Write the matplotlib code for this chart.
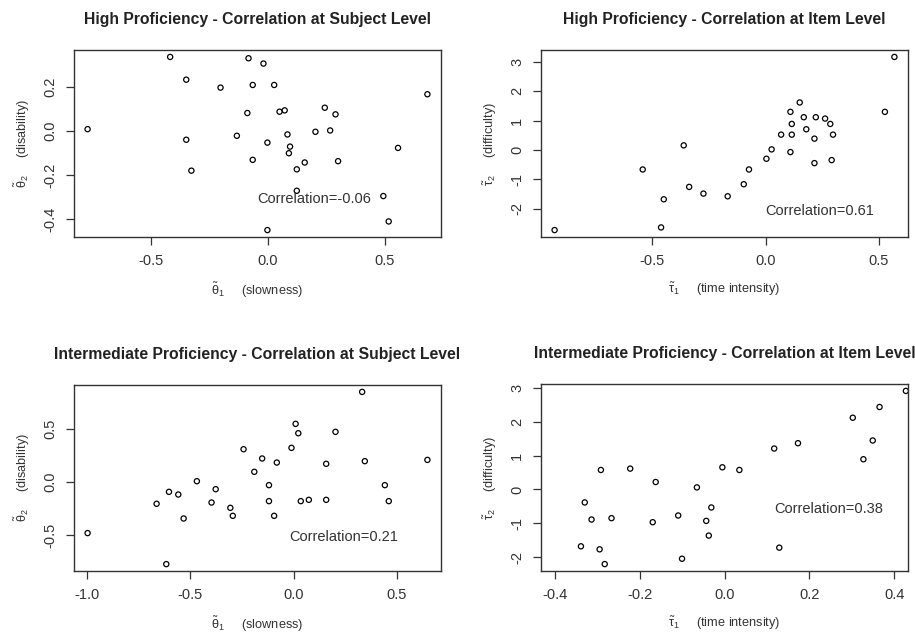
import numpy as np
import matplotlib
matplotlib.use("Agg")
import matplotlib.pyplot as plt

plt.rcParams['font.family'] = ['Liberation Sans', 'DejaVu Sans']
plt.rcParams['axes.unicode_minus'] = False
plt.rcParams['mathtext.fontset'] = 'custom'
plt.rcParams['mathtext.rm'] = 'Liberation Sans'
plt.rcParams['mathtext.it'] = 'Liberation Sans:italic'

# alta competencia - nivel sujeto
hs_x = [-0.774, -0.42, -0.351, -0.351, -0.329, -0.204, -0.134, -0.084, -0.066, -0.089,
        -0.066, -0.02, -0.003, -0.003, 0.026, 0.049, 0.071, 0.083, 0.094, 0.089,
        0.123, 0.123, 0.157, 0.203, 0.243, 0.266, 0.289, 0.3, 0.494, 0.517, 0.557, 0.683]
hs_y = [0.009, 0.336, 0.233, -0.039, -0.179, 0.197, -0.021, 0.33, 0.209, 0.082,
        -0.13, 0.306, -0.052, -0.448, 0.209, 0.088, 0.094, -0.015, -0.07, -0.1,
        -0.173, -0.27, -0.142, -0.003, 0.106, 0.003, 0.076, -0.136, -0.294, -0.409, -0.076, 0.167]

# alta competencia - nivel item
hi_x = [-0.932, -0.543, -0.462, -0.45, -0.362, -0.338, -0.275, -0.168, -0.097, -0.074,
        0.003, 0.026, 0.068, 0.109, 0.109, 0.115, 0.115, 0.15, 0.168, 0.179,
        0.215, 0.215, 0.221, 0.262, 0.285, 0.297, 0.291, 0.526, 0.568]
hi_y = [-2.73, -0.663, -2.64, -1.68, 0.16, -1.257, -1.486, -1.577, -1.166, -0.663,
        -0.297, 0.023, 0.526, 1.303, -0.069, 0.891, 0.526, 1.623, 1.12, 0.709,
        0.389, -0.446, 1.12, 1.074, 0.891, 0.526, -0.343, 1.303, 3.177]

# competencia intermedia - nivel sujeto
ms_x = [-0.997, -0.663, -0.616, -0.603, -0.558, -0.532, -0.468, -0.397, -0.377, -0.306,
        -0.294, -0.242, -0.19, -0.152, -0.119, -0.119, -0.094, -0.081, -0.01, 0.01,
        0.023, 0.035, 0.074, 0.158, 0.158, 0.203, 0.332, 0.345, 0.442, 0.461, 0.648]
ms_y = [-0.478, -0.203, -0.769, -0.091, -0.116, -0.341, 0.009, -0.191, -0.066, -0.241,
        -0.316, 0.309, 0.097, 0.222, -0.028, -0.178, -0.316, 0.184, 0.322, 0.547,
        0.459, -0.178, -0.166, 0.172, -0.166, 0.472, 0.847, 0.197, -0.028, -0.178, 0.209]

# competencia intermedia - nivel item
mi_x = [-0.338, -0.329, -0.313, -0.294, -0.291, -0.282, -0.266, -0.222, -0.169, -0.162,
        -0.109, -0.1, -0.065, -0.043, -0.037, -0.031, -0.005, 0.035, 0.117, 0.129,
        0.173, 0.302, 0.327, 0.349, 0.365, 0.427]
mi_y = [-1.683, -0.386, -0.891, -1.772, 0.574, -2.208, -0.851, 0.614, -0.97, 0.218,
        -0.772, -2.05, 0.059, -0.931, -1.366, -0.535, 0.653, 0.574, 1.208, -1.723,
        1.366, 2.119, 0.891, 1.446, 2.436, 2.911]

W, H = 915, 639
fig = plt.figure(figsize=(W / 100, H / 100), dpi=100)


def rango(v, lim=None):
    lo, hi = (min(v), max(v)) if lim is None else lim
    d = (hi - lo) * 0.04
    return lo - d, hi + d


def panel(box, x, y, titulo, xlab, ylab, xt, yt, fmt_y, texto, tx, ty, xlim=None):
    x0, y0, x1, y1 = box
    ax = fig.add_axes([x0 / W, 1 - y1 / H, (x1 - x0) / W, (y1 - y0) / H])
    ax.scatter(x, y, s=14, facecolors='none', edgecolors='black', linewidths=0.9, clip_on=False)
    ax.set_xlim(rango(x, xlim))
    ax.set_ylim(rango(y))
    ax.set_xticks(xt)
    ax.set_xticklabels([f"{v:.1f}" for v in xt])
    ax.set_yticks(yt)
    ax.set_yticklabels([fmt_y.format(v) for v in yt], rotation=90, va='center')
    for s in ax.spines.values():
        s.set_color('#333333')
        s.set_linewidth(1.0)
    ax.tick_params(direction='out', length=6, width=0.9, colors='#333333',
                   labelsize=10.5, labelcolor='#333333', pad=6)
    ax.set_title(titulo, fontsize=11.3, fontweight='bold', color='#222222', pad=19)
    ax.set_xlabel(xlab, fontsize=9.2, color='#333333', labelpad=9)
    ax.set_ylabel(ylab, fontsize=9.2, color='#333333', labelpad=8)
    ax.text(tx, ty, texto, ha='center', va='center', fontsize=10.5, color='#333333')
    return ax


th1 = r"$\tilde{\mathrm{\theta}}_1$     (slowness)"
th2 = r"$\tilde{\mathrm{\theta}}_2$     (disability)"
ta1 = r"$\tilde{\mathrm{\tau}}_1$     (time intensity)"
ta2 = r"$\tilde{\mathrm{\tau}}_2$     (difficulty)"

panel((74, 50, 441, 237), hs_x, hs_y,
      "High Proficiency - Correlation at Subject Level", th1, th2,
      [-0.5, 0.0, 0.5], [-0.4, -0.2, 0.0, 0.2], "{:.1f}",
      "Correlation=-0.06", 0.197, -0.306)

panel((541, 50, 908, 237), hi_x, hi_y,
      "High Proficiency - Correlation at Item Level", ta1, ta2,
      [-0.5, 0.0, 0.5], [-2, -1, 0, 1, 2, 3], "{:d}",
      "Correlation=0.61", 0.238, -2.08)

panel((74, 385, 441, 571), ms_x, ms_y,
      "Intermediate Proficiency - Correlation at Subject Level", th1, th2,
      [-1.0, -0.5, 0.0, 0.5], [-0.5, 0.0, 0.5], "{:.1f}",
      "Correlation=0.21", 0.242, -0.516)

panel((541, 384, 908, 571), mi_x, mi_y,
      "Intermediate Proficiency - Correlation at Item Level", ta1, ta2,
      [-0.4, -0.2, 0.0, 0.2, 0.4], [-2, -1, 0, 1, 2, 3], "{:d}",
      "Correlation=0.38", 0.245, -0.574, xlim=(-0.4, 0.4))

fig.savefig("out.png", dpi=100)
